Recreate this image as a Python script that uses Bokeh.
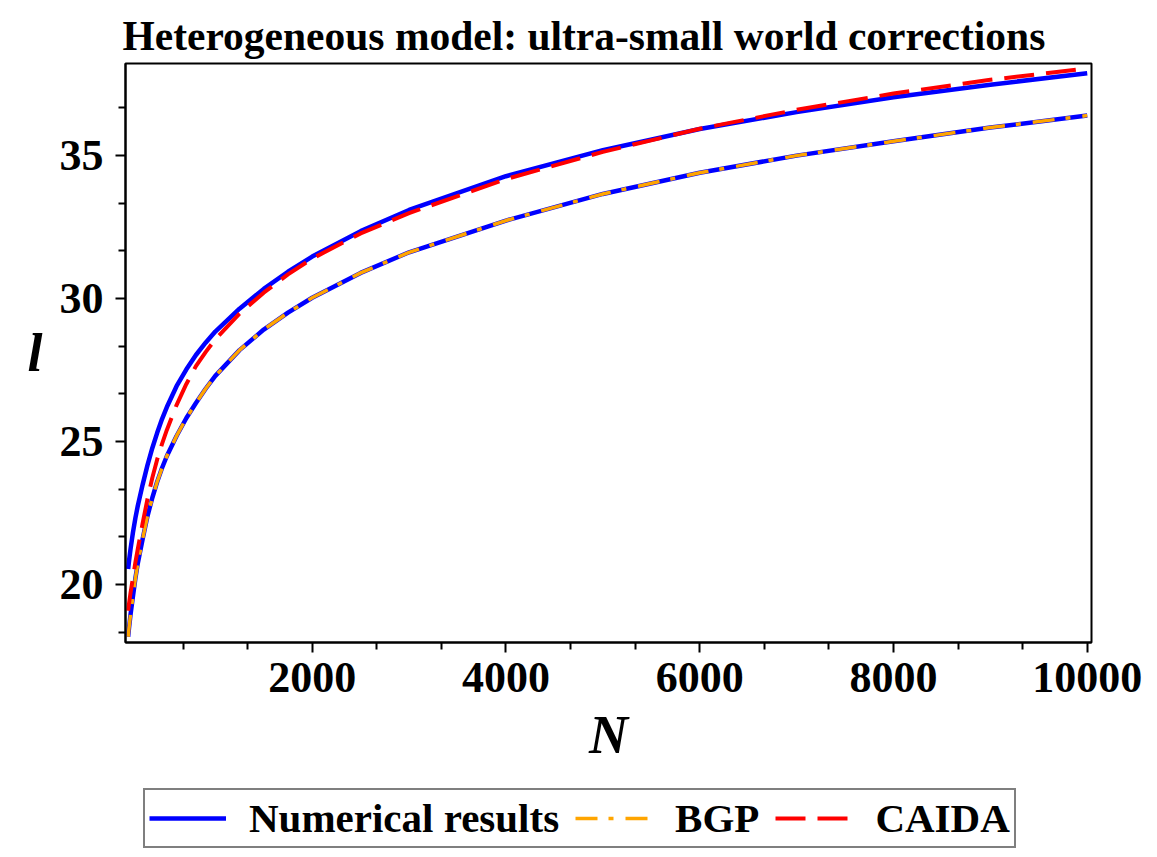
from bokeh.plotting import figure
from bokeh.layouts import column
from bokeh.models import (Range1d, FixedTicker, Legend, LegendItem,
                          ColumnDataSource)
from bokeh.embed import file_html
from bokeh.resources import INLINE

# ---- data ----
N = [100, 110, 125, 150, 175, 200, 250, 300, 350, 400,
     450, 500, 600, 700, 800, 900, 1000, 1250, 1500, 1750,
     2000, 2500, 3000, 4000, 5000, 6000, 7000, 8000, 9000, 10000]

numerical_upper = [20.55, 20.85, 21.25, 21.83, 22.33, 22.76, 23.50, 24.18, 24.78, 25.31,
                   25.79, 26.21, 26.94, 27.52, 28.03, 28.46, 28.85, 29.65, 30.34, 30.94,
                   31.47, 32.36, 33.10, 34.28, 35.19, 35.93, 36.52, 37.04, 37.48, 37.88]

numerical_lower = [18.18, 18.51, 18.96, 19.60, 20.22, 20.75, 21.60, 22.40, 23.04, 23.60,
                   24.08, 24.50, 25.20, 25.82, 26.35, 26.85, 27.30, 28.20, 28.92, 29.51,
                   30.03, 30.90, 31.62, 32.73, 33.66, 34.40, 35.00, 35.50, 35.98, 36.40]

bgp = [18.18, 18.51, 18.96, 19.60, 20.22, 20.75, 21.60, 22.40, 23.04, 23.60,
       24.08, 24.50, 25.20, 25.82, 26.35, 26.85, 27.30, 28.20, 28.92, 29.51,
       30.03, 30.90, 31.62, 32.73, 33.66, 34.40, 35.00, 35.50, 35.98, 36.40]

caida = [19.09, 19.36, 19.72, 20.24, 20.78, 21.25, 22.15, 23.00, 23.74, 24.38,
         24.92, 25.41, 26.28, 27.01, 27.64, 28.13, 28.58, 29.48, 30.21, 30.85,
         31.40, 32.28, 32.99, 34.18, 35.13, 35.94, 36.60, 37.17, 37.65, 38.05]

x_major = [2000, 4000, 6000, 8000, 10000]
x_minor = [666.7, 1333.3, 2666.7, 3333.3, 4666.7, 5333.3, 6666.7, 7333.3, 8666.7, 9333.3]
y_major = [20, 25, 30, 35]
y_minor = [18.33, 21.67, 23.33, 26.67, 28.33, 31.67, 33.33, 36.67]

title_text = "Heterogeneous model: ultra-small world corrections"
x_label = "N"
y_label = "l"
labels = ["Numerical results", "BGP", "CAIDA"]

FONT = "Liberation Serif"
BLUE, ORANGE, RED = "#0000FF", "#FFA500", "#FF0000"
BGP_DASH = "22 11 5 12"
CAIDA_DASH = "30 12"

src = ColumnDataSource(dict(N=N, up=numerical_upper, lo=numerical_lower,
                            bgp=bgp, caida=caida))

FL, FR = 125, 1091          # frame left / right in page pixels
H1 = 785                    # main plot height
H2 = 857 - H1               # legend strip below

# ---------------- main plot ----------------
p = figure(width=1157, height=H1,
           x_range=Range1d(73, 10044), y_range=Range1d(17.98, 38.22),
           output_backend="svg", toolbar_location=None,
           min_border_left=FL, min_border_right=1157 - FR,
           min_border_top=63, min_border_bottom=H1 - 642)

p.background_fill_color = "white"
p.border_fill_color = "white"
p.outline_line_color = "black"
p.outline_line_width = 2
p.grid.visible = False

p.title.text = title_text
p.title.text_font = FONT
p.title.text_font_size = "41.5px"
p.title.text_font_style = "bold"
p.title.text_color = "black"
p.title.align = "left"
p.title.offset = -3

for ax in (p.xaxis[0], p.yaxis[0]):
    ax.axis_line_color = "black"
    ax.axis_line_width = 2
    ax.major_tick_line_color = "black"
    ax.major_tick_line_width = 2
    ax.minor_tick_line_color = "black"
    ax.minor_tick_line_width = 2
    ax.major_tick_in = 0
    ax.major_tick_out = 10
    ax.minor_tick_in = 0
    ax.minor_tick_out = 7
    ax.major_label_text_font = FONT
    ax.major_label_text_font_size = "44px"
    ax.major_label_text_font_style = "bold"
    ax.major_label_text_color = "black"
    ax.axis_label_text_font = FONT
    ax.axis_label_text_font_size = "54px"
    ax.axis_label_text_font_style = "bold italic"
    ax.axis_label_text_color = "black"

p.xaxis[0].ticker = FixedTicker(ticks=x_major, minor_ticks=x_minor)
p.yaxis[0].ticker = FixedTicker(ticks=y_major, minor_ticks=y_minor)
p.xaxis[0].axis_label = x_label
p.yaxis[0].axis_label = y_label
p.yaxis[0].axis_label_orientation = "horizontal"
p.xaxis[0].major_label_standoff = 10
p.yaxis[0].major_label_standoff = 12
p.xaxis[0].axis_label_standoff = 10
p.yaxis[0].axis_label_standoff = 14

r_up = p.line("N", "up", source=src, line_color=BLUE, line_width=4.5)
r_lo = p.line("N", "lo", source=src, line_color=BLUE, line_width=4.5)
r_bgp = p.line("N", "bgp", source=src, line_color=ORANGE, line_width=3.5,
               line_dash=BGP_DASH)
r_caida = p.line("N", "caida", source=src, line_color=RED, line_width=4,
                 line_dash=CAIDA_DASH)

# ---------------- legend strip ----------------
p2 = figure(width=1157, height=H2, title=None,
            x_range=Range1d(FL, FR), y_range=Range1d(0, H2),
            x_axis_location=None, y_axis_location=None,
            output_backend="svg", toolbar_location=None,
            min_border_left=FL, min_border_right=1157 - FR,
            min_border_top=0, min_border_bottom=0)
p2.outline_line_color = None
p2.grid.visible = False
p2.background_fill_color = "white"
p2.border_fill_color = "white"
# an off-screen range so the legend renderers never show in the strip
p2.extra_y_ranges = {"hidden": Range1d(1000, 1001)}

g_up = p2.line("N", "up", source=src, line_color=BLUE, line_width=4.5,
               y_range_name="hidden")
g_bgp = p2.line("N", "bgp", source=src, line_color=ORANGE, line_width=3.5,
                line_dash=BGP_DASH, y_range_name="hidden")
g_caida = p2.line("N", "caida", source=src, line_color=RED, line_width=4,
                  line_dash=CAIDA_DASH, y_range_name="hidden")

legend = Legend(items=[LegendItem(label=labels[0], renderers=[g_up]),
                       LegendItem(label=labels[1], renderers=[g_bgp]),
                       LegendItem(label=labels[2], renderers=[g_caida])],
                orientation="horizontal", location=(143 - FL, 9))
legend.label_text_font = FONT
legend.label_text_font_size = "41px"
legend.label_text_font_style = "bold"
legend.label_text_color = "black"
legend.glyph_width = 77
legend.glyph_height = 30
legend.spacing = 16
legend.padding = 4
legend.margin = 0
legend.border_line_color = "black"
legend.border_line_width = 2
legend.label_standoff = 23
legend.background_fill_alpha = 1.0
p2.add_layout(legend, "center")

open("out.html", "w").write(file_html(column(p, p2, spacing=0), INLINE))
